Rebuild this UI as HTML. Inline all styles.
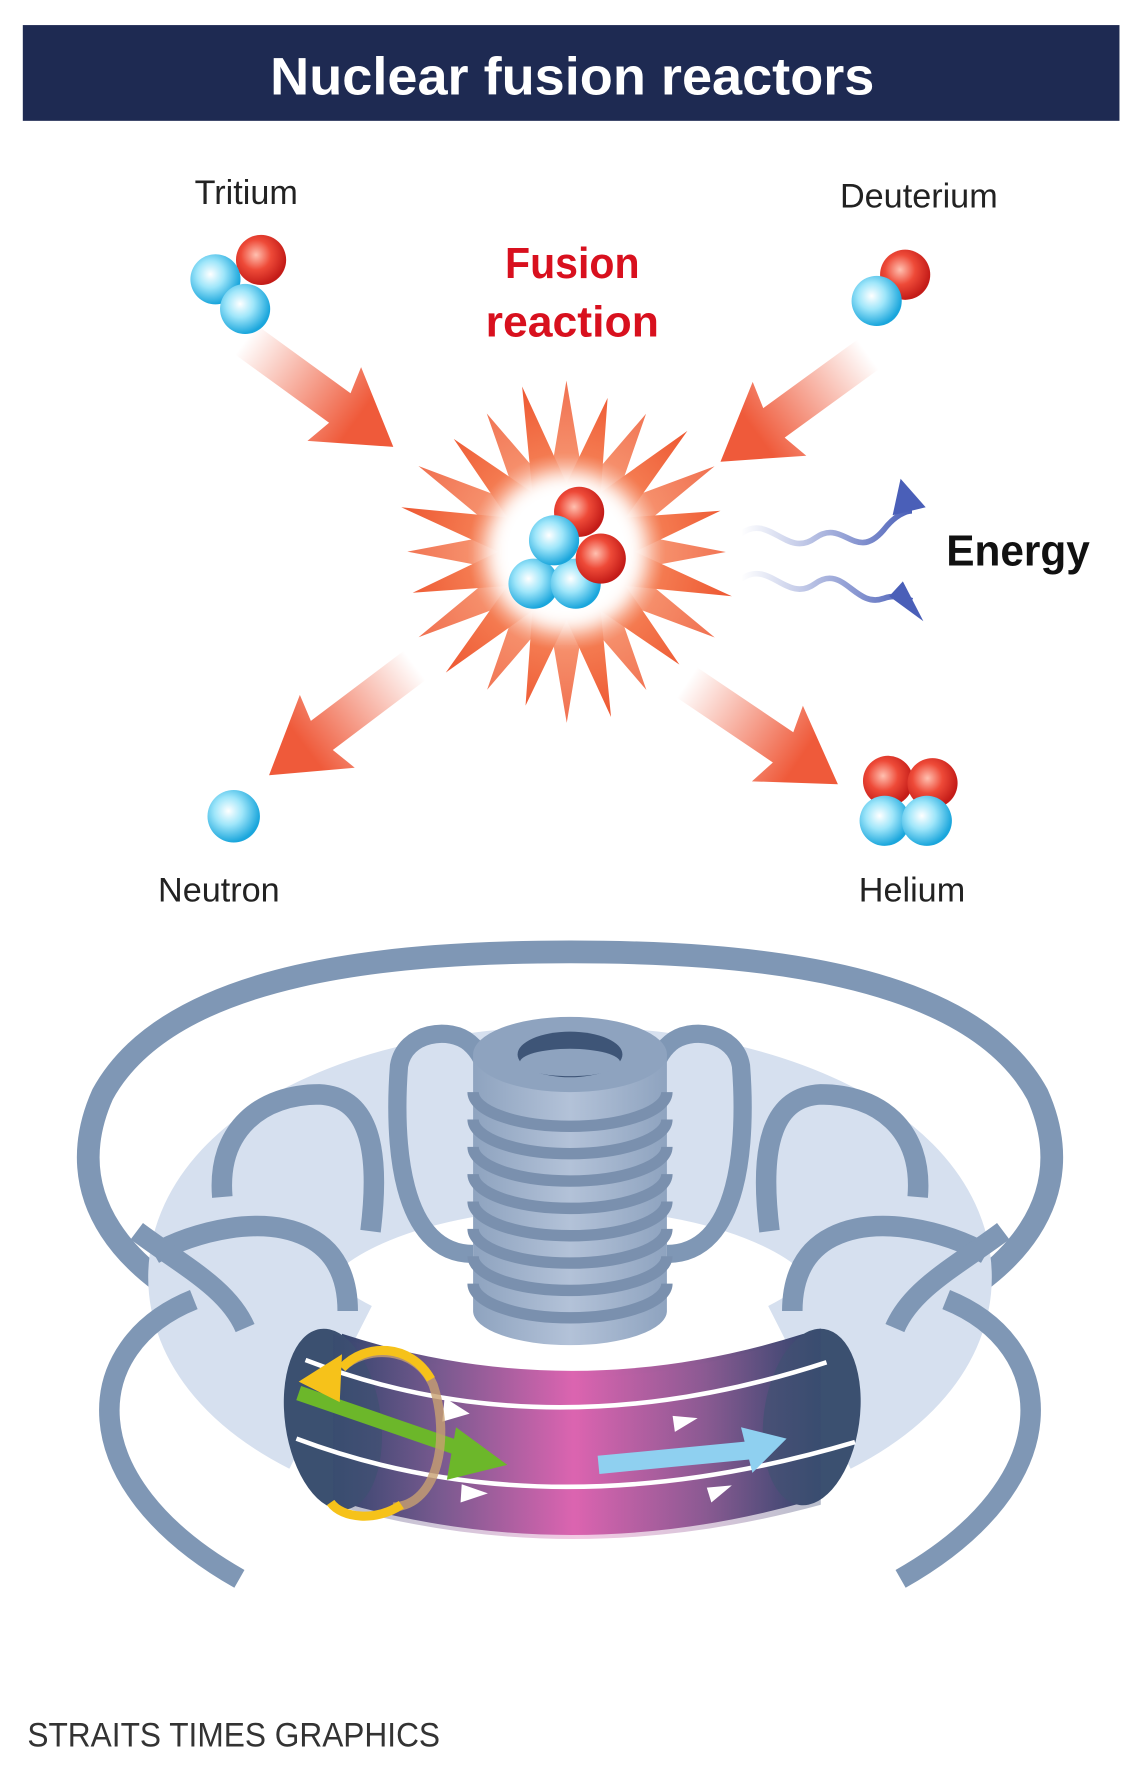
<!DOCTYPE html>
<html><head><meta charset="utf-8">
<style>html,body{margin:0;padding:0;background:#fff}svg{display:block}</style></head>
<body>
<svg width="1140" height="1781" viewBox="0 0 1000 1562.3" xmlns="http://www.w3.org/2000/svg" font-family="Liberation Sans, sans-serif">
<defs>
<radialGradient id="gb" cx="0.4" cy="0.4" r="0.6"><stop offset="0" stop-color="#ffffff"/><stop offset="0.45" stop-color="#9fe6fa"/><stop offset="1" stop-color="#1aa6dc"/></radialGradient>
<radialGradient id="gr" cx="0.4" cy="0.4" r="0.6"><stop offset="0" stop-color="#ffc0b0"/><stop offset="0.5" stop-color="#ee4a38"/><stop offset="1" stop-color="#c41c18"/></radialGradient>
<radialGradient id="gstar" cx="0.5" cy="0.5" r="0.5"><stop offset="0.35" stop-color="#fde0d0"/><stop offset="0.6" stop-color="#f47a50"/><stop offset="1" stop-color="#ee5a34"/></radialGradient>
<linearGradient id="ga" gradientUnits="userSpaceOnUse" x1="-160" y1="0" x2="-40" y2="0"><stop offset="0" stop-color="#ef5a3a" stop-opacity="0"/><stop offset="1" stop-color="#ef5a3a"/></linearGradient>
<linearGradient id="gw" x1="0" y1="0" x2="1" y2="0"><stop offset="0" stop-color="#5a6fc0" stop-opacity="0"/><stop offset="1" stop-color="#4a5fb8"/></linearGradient>
<linearGradient id="gp" x1="0" y1="0" x2="1" y2="0"><stop offset="0" stop-color="#35466e"/><stop offset="0.22" stop-color="#7a5a90"/><stop offset="0.5" stop-color="#dc64b0"/><stop offset="0.78" stop-color="#8a5a92"/><stop offset="1" stop-color="#35466e"/></linearGradient>
<linearGradient id="gc" x1="0" y1="0" x2="1" y2="0"><stop offset="0" stop-color="#8ea3bf"/><stop offset="0.5" stop-color="#b3c2d8"/><stop offset="1" stop-color="#8ea3bf"/></linearGradient>
<filter id="bl"><feGaussianBlur stdDeviation="8"/></filter>
</defs>

<rect x="20" y="22" width="962" height="84" fill="#1e2a52"/>
<text x="502" y="83" text-anchor="middle" font-size="46" font-weight="bold" fill="#fff" textLength="530" lengthAdjust="spacingAndGlyphs">Nuclear fusion reactors</text>

<text x="216" y="179" text-anchor="middle" font-size="30" fill="#222">Tritium</text>
<text x="806" y="182" text-anchor="middle" font-size="30" fill="#222">Deuterium</text>
<text x="502" y="244" text-anchor="middle" font-size="38" font-weight="bold" fill="#d8101e" textLength="118" lengthAdjust="spacingAndGlyphs">Fusion</text>
<text x="502" y="295" text-anchor="middle" font-size="38" font-weight="bold" fill="#d8101e" textLength="152" lengthAdjust="spacingAndGlyphs">reaction</text>
<text x="893" y="496" text-anchor="middle" font-size="38" font-weight="bold" fill="#111" textLength="126" lengthAdjust="spacingAndGlyphs">Energy</text>
<text x="192" y="791" text-anchor="middle" font-size="30" fill="#222">Neutron</text>
<text x="800" y="791" text-anchor="middle" font-size="30" fill="#222">Helium</text>

<g fill="url(#ga)">
<g transform="translate(345,392) rotate(36)"><polygon points="-170,-16 -58,-16 -64,-40 0,0 -64,40 -58,16 -170,16"/></g>
<g transform="translate(632,405) rotate(144)"><polygon points="-170,-16 -58,-16 -64,-40 0,0 -64,40 -58,16 -170,16"/></g>
<g transform="translate(236,680) rotate(143)"><polygon points="-170,-16 -58,-16 -64,-40 0,0 -64,40 -58,16 -170,16"/></g>
<g transform="translate(735,688) rotate(34)"><polygon points="-170,-16 -58,-16 -64,-40 0,0 -64,40 -58,16 -170,16"/></g>
</g>

<polygon fill="url(#gstar)" points="557,484 642,523 549,514 596,583 527,536 536,629 497,544 461,619 467,536 391,590 445,514 362,520 437,484 352,445 445,454 398,385 467,432 458,339 497,424 533,349 527,432 603,378 549,454 632,448"/>
<polygon fill="url(#gstar)" transform="rotate(15 497 484)" opacity="0.85" points="557,484 642,523 549,514 596,583 527,536 536,629 497,544 461,619 467,536 391,590 445,514 362,520 437,484 352,445 445,454 398,385 467,432 458,339 497,424 533,349 527,432 603,378 549,454 632,448"/>
<circle cx="497" cy="484" r="68" fill="#fff" filter="url(#bl)"/>
<circle cx="497" cy="484" r="52" fill="#fff"/>

<circle cx="508" cy="449" r="22" fill="url(#gr)"/>
<circle cx="468" cy="512" r="22" fill="url(#gb)"/>
<circle cx="505" cy="512" r="22" fill="url(#gb)"/>
<circle cx="527" cy="490" r="22" fill="url(#gr)"/>
<circle cx="486" cy="474" r="22" fill="url(#gb)"/>

<circle cx="229" cy="228" r="22" fill="url(#gr)"/>
<circle cx="189" cy="245" r="22" fill="url(#gb)"/>
<circle cx="215" cy="271" r="22" fill="url(#gb)"/>
<circle cx="794" cy="241" r="22" fill="url(#gr)"/>
<circle cx="769" cy="264" r="22" fill="url(#gb)"/>
<circle cx="205" cy="716" r="23" fill="url(#gb)"/>
<circle cx="779" cy="685" r="22" fill="url(#gr)"/>
<circle cx="818" cy="687" r="22" fill="url(#gr)"/>
<circle cx="776" cy="720" r="22" fill="url(#gb)"/>
<circle cx="813" cy="720" r="22" fill="url(#gb)"/>

<path d="M650,468 C675,450 690,490 715,472 C740,454 750,494 775,465 C785,452 795,448 800,448" fill="none" stroke="url(#gw)" stroke-width="5"/>
<polygon points="790,420 812,445 783,452" fill="#4a5fb8"/>
<path d="M650,508 C675,490 690,530 715,512 C740,494 750,534 775,525 C785,521 795,525 800,527" fill="none" stroke="url(#gw)" stroke-width="5"/>
<polygon points="780,523 810,545 792,510" fill="#4a5fb8"/>

<!-- reactor -->
<path d="M205,1160 C110,1120 50,1050 90,960 C150,850 350,835 500,835 C650,835 850,850 910,960 C950,1050 890,1120 795,1160" fill="none" stroke="#7f97b5" stroke-width="20"/>
<path d="M290,1217 A290,140 0 1 1 710,1217" fill="none" stroke="#d6e0ef" stroke-width="160"/>
<g fill="none" stroke="#7f97b5" stroke-width="16">
<path d="M415,1100 C350,1100 345,1000 350,935 C355,905 395,900 412,915 C430,930 432,960 430,990"/>
<path d="M585,1100 C650,1100 655,1000 650,935 C645,905 605,900 588,915 C570,930 568,960 570,990"/>
</g>
<path d="M415,925 L415,1150 A85,30 0 0 0 585,1150 L585,925 Z" fill="url(#gc)"/>
<g fill="none" stroke="#7a90ae" stroke-width="10">
<path d="M415,958 A85,30 0 0 0 585,958"/>
<path d="M415,982 A85,30 0 0 0 585,982"/>
<path d="M415,1006 A85,30 0 0 0 585,1006"/>
<path d="M415,1030 A85,30 0 0 0 585,1030"/>
<path d="M415,1054 A85,30 0 0 0 585,1054"/>
<path d="M415,1078 A85,30 0 0 0 585,1078"/>
<path d="M415,1102 A85,30 0 0 0 585,1102"/>
<path d="M415,1126 A85,30 0 0 0 585,1126"/>
</g>
<ellipse cx="500" cy="925" rx="85" ry="33" fill="#8ea3bf"/>
<ellipse cx="500" cy="925" rx="46" ry="20" fill="#3e5577"/>
<ellipse cx="500" cy="932" rx="44" ry="12" fill="#8ea3bf"/>

<g fill="none" stroke="#7f97b5" stroke-width="18">
<path d="M195,1050 C190,990 230,960 280,960 C320,962 335,1000 325,1080"/>
<path d="M805,1050 C810,990 770,960 720,960 C680,962 665,1000 675,1080"/>
<path d="M135,1100 C170,1080 230,1065 270,1085 C300,1100 305,1130 305,1150"/>
<path d="M865,1100 C830,1080 770,1065 730,1085 C700,1100 695,1130 695,1150"/>
<path d="M120,1080 C160,1110 200,1130 215,1165"/>
<path d="M880,1080 C840,1110 800,1130 785,1165"/>
<path d="M170,1140 C70,1180 60,1300 210,1385"/>
<path d="M830,1140 C930,1180 940,1300 790,1385"/>
</g>

<path d="M300,1170 Q500,1235 705,1170 L705,1318 Q500,1375 300,1318 Z" fill="url(#gp)"/>
<ellipse cx="292" cy="1245" rx="42" ry="80" transform="rotate(-8 292 1245)" fill="#3b5070"/>
<ellipse cx="712" cy="1243" rx="42" ry="78" transform="rotate(8 712 1243)" fill="#3b5070"/>
<path d="M292,1170 Q500,1250 720,1165 L720,1320 Q500,1380 292,1320 Z" fill="url(#gp)" opacity="0.35"/>
<g fill="none" stroke="#fff" stroke-width="4">
<path d="M268,1193 Q480,1275 725,1195"/>
<path d="M260,1262 Q480,1345 750,1265"/>
</g>
<g fill="#fff">
<polygon points="390,1226 412,1240 388,1247"/>
<polygon points="590,1242 612,1244 592,1256"/>
<polygon points="405,1302 428,1310 404,1318"/>
<polygon points="620,1305 642,1303 624,1318"/>
</g>
<path d="M262,1222 L410,1273" stroke="#6cb72a" stroke-width="13" fill="none"/>
<polygon points="400,1252 445,1285 392,1298" fill="#6cb72a"/>
<path d="M525,1285 L660,1272" stroke="#8fd0f0" stroke-width="16" fill="none"/>
<polygon points="650,1252 690,1262 660,1292" fill="#8fd0f0"/>
<path d="M300,1200 C320,1180 365,1180 380,1215 C395,1260 385,1320 345,1322" fill="none" stroke="#c8a070" stroke-width="8" opacity="0.8"/>
<path d="M300,1200 C320,1178 360,1178 378,1210" fill="none" stroke="#f6c21a" stroke-width="8"/>
<polygon points="262,1212 300,1188 298,1230" fill="#f6c21a"/>
<path d="M290,1318 C300,1332 330,1335 352,1320" fill="none" stroke="#f6c21a" stroke-width="8"/>

<text x="24" y="1532" font-size="30" fill="#333" textLength="362" lengthAdjust="spacingAndGlyphs">STRAITS TIMES GRAPHICS</text>
</svg>
</body></html>
